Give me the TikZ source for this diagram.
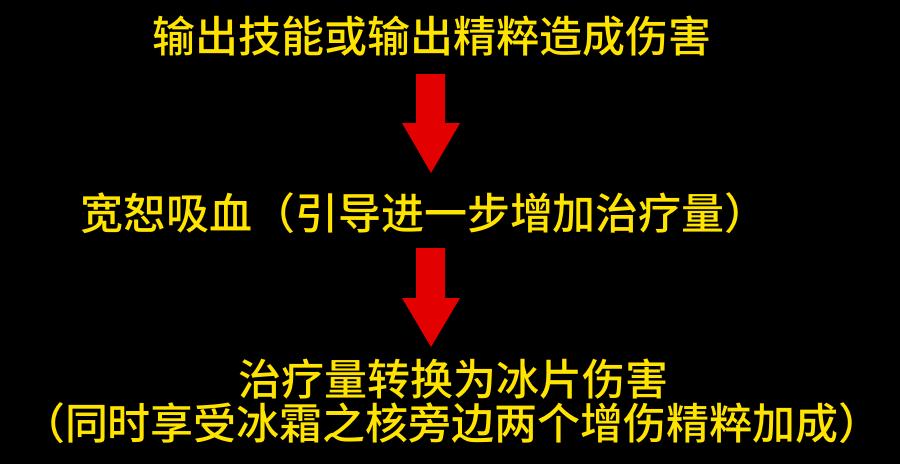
\documentclass[tikz,border=0pt]{standalone}
\usepackage{fontspec}
\newfontfamily\cjk{Noto Sans CJK SC Medium}
\definecolor{txtyellow}{RGB}{255,228,0}
\definecolor{arrowred}{RGB}{226,0,0}
\tikzset{
  label/.style={text=txtyellow, font=\cjk\fontsize{43}{43}\selectfont, inner sep=0pt, anchor=base},
  blockarrow/.style={fill=arrowred, draw=none}
}
\begin{document}
\begin{tikzpicture}[x=1pt,y=-1pt]
\fill[black] (0,0) rectangle (900,464);
\useasboundingbox (0,0) rectangle (900,464);
\node[label] (l1) at (432,52) {输出技能或输出精粹造成伤害};
\node[label] (l2) at (424,229) {宽恕吸血（引导进一步增加治疗量）};
\node[label] (l3) at (453,395) {治疗量转换为冰片伤害};
\node[label] (l4) at (452,439) {（同时享受冰霜之核旁边两个增伤精粹加成）};
\fill[blockarrow] (416,74) -- (445,74) -- (445,123) -- (460,123) -- (431,173) -- (402,123) -- (416,123) -- cycle;
\fill[blockarrow] (416,248) -- (445,248) -- (445,298) -- (460,298) -- (431,347) -- (402,298) -- (416,298) -- cycle;
\end{tikzpicture}
\end{document}
